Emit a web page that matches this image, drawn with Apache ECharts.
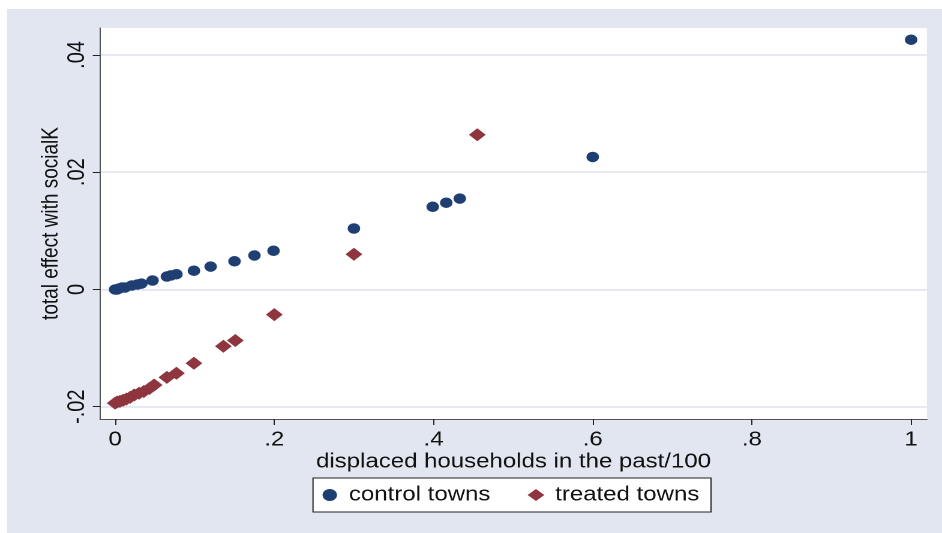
<!DOCTYPE html>
<html>
<head>
<meta charset="utf-8">
<script src="https://cdn.jsdelivr.net/npm/echarts@6/dist/echarts.min.js"></script>
<style>
html,body{margin:0;padding:0;background:#ffffff;overflow:hidden;}
#wrap{width:942px;height:533px;overflow:hidden;}
/* the reference is rendered with horizontally widened glyphs and markers (Stata export); reproduce by a 1.2x horizontal stretch */
#chart{width:785px;height:533px;transform:scaleX(1.2);transform-origin:0 0;}
</style>
</head>
<body>
<div id="wrap"><div id="chart"></div></div>
<script>
// control towns: [displaced households/100, total effect]
var controlX = [0, 0.0025, 0.005, 0.009, 0.0126, 0.021, 0.028, 0.033, 0.047, 0.065, 0.070, 0.077, 0.099, 0.12, 0.15, 0.175, 0.199, 0.30, 0.399, 0.416, 0.433, 0.60, 1.0];
var controlY = [0, 0.0000, 0.00017, 0.00034, 0.00034, 0.00068, 0.00085, 0.0010, 0.00153, 0.0022, 0.0024, 0.0026, 0.0032, 0.0039, 0.0048, 0.0058, 0.0066, 0.0104, 0.0141, 0.0148, 0.0155, 0.0226, 0.0426];
// treated towns
var treatedX = [0, 0.0025, 0.006, 0.01, 0.014, 0.019, 0.024, 0.030, 0.036, 0.043, 0.049, 0.065, 0.077, 0.099, 0.136, 0.151, 0.20, 0.30, 0.455];
var treatedY = [-0.0194, -0.0192, -0.0191, -0.0189, -0.0187, -0.0184, -0.0180, -0.0177, -0.0174, -0.0169, -0.0163, -0.0150, -0.0143, -0.0126, -0.0097, -0.0087, -0.0043, 0.0060, 0.0264];
var xTicks = [0, 0.2, 0.4, 0.6, 0.8, 1];
var yTicks = [-0.02, 0, 0.02, 0.04];
var xTitle = 'displaced households in the past/100';
var yTitle = 'total effect with socialK';
var seriesNames = ['control towns', 'treated towns'];

function fmt(v) {
  var r = Math.round(v * 1000) / 1000;
  if (r === 0) return '0';
  if (r === 1) return '1';
  return String(r).replace(/^(-?)0\./, '$1.');
}
function pairs(xs, ys) { return xs.map(function (x, i) { return [x, ys[i]]; }); }

var SX = 1.2; // horizontal stretch applied by CSS
var FONT = 'Liberation Sans, Arial, sans-serif';
var chart = echarts.init(document.getElementById('chart'), null, {renderer: 'canvas', devicePixelRatio: 2});
var option = {
  animation: false,
  backgroundColor: '#ffffff',
  graphic: [
    {type: 'rect', z: -10, silent: true, shape: {x: 7 / SX, y: 9, width: 800, height: 533}, style: {fill: '#e1e6f0'}},
    {type: 'rect', z: 5, silent: true, shape: {x: 313 / SX, y: 478, width: 398 / SX, height: 34}, style: {fill: '#ffffff', stroke: '#222222', lineWidth: 1}}
  ],
  grid: {left: 100 / SX, right: 15 / SX, top: 28, bottom: 114, show: true, backgroundColor: '#ffffff', borderWidth: 0, containLabel: false},
  legend: {
    z: 10,
    left: 268.8, top: 485,
    padding: 0,
    itemGap: 31,
    itemWidth: 14, itemHeight: 12,
    textStyle: {fontFamily: FONT, fontSize: 20, color: '#111111', padding: [0, 0, 0, 4]},
    data: [
      {name: seriesNames[0], icon: 'circle'},
      {name: seriesNames[1], icon: 'diamond'}
    ]
  },
  xAxis: {
    type: 'value', min: -0.019, max: 1.02,
    name: xTitle, nameLocation: 'middle', nameGap: 33, nameMoveOverlap: false,
    nameTextStyle: {fontFamily: FONT, fontSize: 20, color: '#111111'},
    axisLine: {show: true, onZero: false, lineStyle: {color: '#555555', width: 1}},
    axisTick: {show: true, length: 6, lineStyle: {color: '#222222'}, customValues: xTicks},
    axisLabel: {fontFamily: FONT, fontSize: 20, color: '#111111', margin: 11, customValues: xTicks, formatter: fmt},
    splitLine: {show: false}
  },
  yAxis: {
    type: 'value', min: -0.0221, max: 0.0446,
    name: yTitle, nameLocation: 'middle', nameGap: 31, nameRotate: 90, nameMoveOverlap: false,
    nameTextStyle: {fontFamily: FONT, fontSize: 19, color: '#111111'},
    axisLine: {show: true, onZero: false, lineStyle: {color: '#555555', width: 1}},
    axisTick: {show: true, length: 6, lineStyle: {color: '#222222'}, customValues: yTicks},
    axisLabel: {fontFamily: FONT, fontSize: 20, color: '#111111', margin: 9, rotate: 90, customValues: yTicks, formatter: fmt},
    splitLine: {show: true, lineStyle: {color: '#e6e9f3', width: 2}, customValues: yTicks}
  },
  series: [
    {
      name: seriesNames[0], type: 'scatter', symbol: 'circle', symbolSize: 10.5,
      itemStyle: {color: '#1f3f73', opacity: 1}, z: 3,
      data: pairs(controlX, controlY)
    },
    {
      name: seriesNames[1], type: 'scatter', symbol: 'diamond', symbolSize: [14, 13],
      itemStyle: {color: '#8f353d', opacity: 1}, z: 3,
      data: pairs(treatedX, treatedY)
    }
  ]
};
chart.setOption(option);
</script>
</body>
</html>
